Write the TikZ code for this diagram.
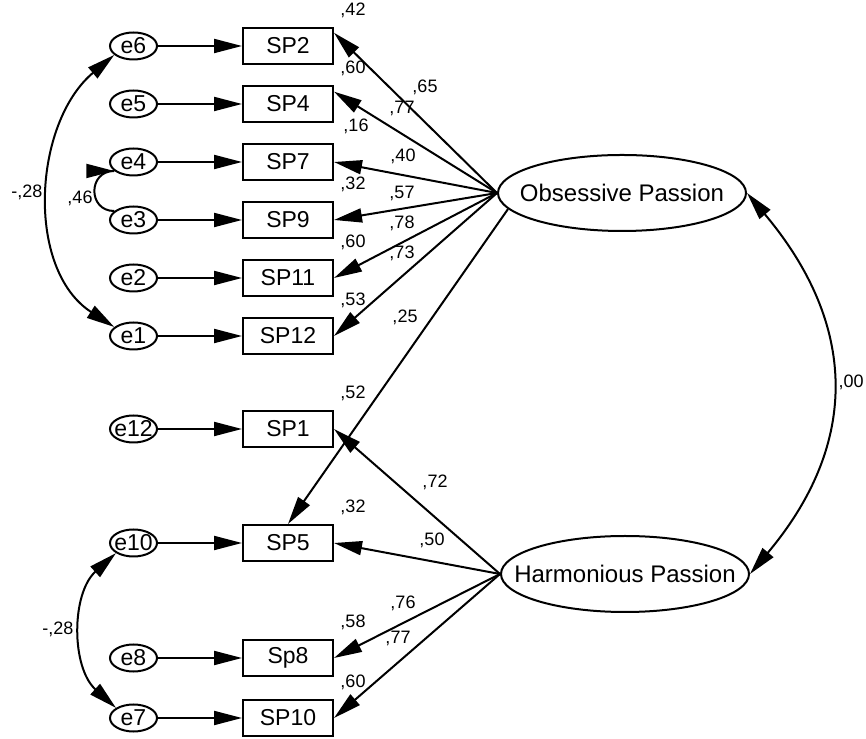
\documentclass[tikz,border=0pt]{standalone}
\usepackage{fontspec}
\setmainfont{Liberation Sans}
\usetikzlibrary{positioning,shapes.geometric,arrows.meta,decorations.markings}
\tikzset{
  obs/.style={draw, line width=1pt, minimum width=45pt, minimum height=18pt, inner sep=0pt, font=\fontsize{11.5}{13}\selectfont},
  err/.style={draw, ellipse, line width=1pt, minimum width=23.5pt, minimum height=13.5pt, inner xsep=-3pt, inner ysep=-1pt, font=\fontsize{11.5}{13}\selectfont},
  lat/.style={draw, ellipse, line width=1pt, minimum width=124pt, minimum height=38pt, inner xsep=-20pt, inner ysep=0pt, font=\fontsize{12}{14}\selectfont},
  num/.style={inner sep=0pt, font=\fontsize{9}{10}\selectfont},
  load/.style={-{Triangle[length=14pt,width=7pt]}, line width=1pt},
  cov/.style={{Triangle[length=14pt,width=7pt]}-{Triangle[length=14pt,width=7pt]}, line width=1pt},
  covarc/.style={line width=1pt, postaction={decorate}, decoration={markings,
    mark=at position 0 with {\arrowreversed{Triangle[length=14pt,width=7pt]}},
    mark=at position 1 with {\arrow{Triangle[length=14pt,width=7pt]}}}}
}
\begin{document}
\begin{tikzpicture}[x=0.5pt, y=0.5pt, node distance=10pt and 42pt]
  \useasboundingbox (0,0) rectangle (866,738);

  % indicators
  \node[obs] (sp2) at (288,692) {SP2};
  \node[obs, below=of sp2] (sp4) {SP4};
  \node[obs, below=of sp4] (sp7) {SP7};
  \node[obs, below=of sp7] (sp9) {SP9};
  \node[obs, below=of sp9] (sp11) {SP11};
  \node[obs, below=of sp11] (sp12) {SP12};
  \node[obs, below=27.5pt of sp12] (sp1) {SP1};
  \node[obs, below=38pt of sp1] (sp5) {SP5};
  \node[obs, below=38.5pt of sp5] (sp8) {Sp8};
  \node[obs, below=11pt of sp8] (sp10) {SP10};

  % errors
  \node[err, left=of sp2] (e6) {e6};
  \node[err, left=of sp4] (e5) {e5};
  \node[err, left=of sp7] (e4) {e4};
  \node[err, left=of sp9] (e3) {e3};
  \node[err, left=of sp11] (e2) {e2};
  \node[err, left=of sp12] (e1) {e1};
  \node[err, left=of sp1] (e12) {e12};
  \node[err, left=of sp5] (e10) {e10};
  \node[err, left=of sp8] (e8) {e8};
  \node[err, left=of sp10] (e7) {e7};

  % latent factors
  \node[lat] (op) at (622,545) {Obsessive Passion};
  \node[lat] (hp) at (625,164) {Harmonious Passion};

  \draw[load] (e6) -- (sp2);
  \draw[load] (e5) -- (sp4);
  \draw[load] (e4) -- (sp7);
  \draw[load] (e3) -- (sp9);
  \draw[load] (e2) -- (sp11);
  \draw[load] (e1) -- (sp12);
  \draw[load] (e12) -- (sp1);
  \draw[load] (e10) -- (sp5);
  \draw[load] (e8) -- (sp8);
  \draw[load] (e7) -- (sp10);

  \draw[load] (op.west) -- (sp2.16);
  \draw[load] (op.west) -- (sp4.15);
  \draw[load] (op.west) -- (sp7.east);
  \draw[load] (op.west) -- (sp9.east);
  \draw[load] (op.west) -- (sp11.east);
  \draw[load] (op.west) -- (sp12.east);
  \draw[load] (op.188) -- (sp5.north);
  \draw[load] (hp.west) -- (sp1.east);
  \draw[load] (hp.west) -- (sp5.east);
  \draw[load] (hp.west) -- (sp8.east);
  \draw[load] (hp.west) -- (sp10.east);

  % covariances
  \draw[cov] (e6.205) to[out=220,in=147] (e1.155);
  \draw[covarc] (e4.205) to[out=180,in=180,looseness=1.7] (e3.155);
  \draw[cov] (e10.210) to[out=222,in=138] (e7.150);
  \draw[cov] (op.east) to[out=-50,in=50,looseness=1.15] (hp.east);

  % squared multiple correlations
  \node[num] (r2sp2) at ([shift={(19,17)}]sp2.north east) {,42};
  \node[num] (r2sp4) at ([shift={(19,17)}]sp4.north east) {,60};
  \node[num] (r2sp7) at ([shift={(22,17)}]sp7.north east) {,16};
  \node[num] (r2sp9) at ([shift={(19,17)}]sp9.north east) {,32};
  \node[num] (r2sp11) at ([shift={(19,17)}]sp11.north east) {,60};
  \node[num] (r2sp12) at ([shift={(19,17)}]sp12.north east) {,53};
  \node[num] (r2sp1) at ([shift={(19,17)}]sp1.north east) {,52};
  \node[num] (r2sp5) at ([shift={(19,17)}]sp5.north east) {,32};
  \node[num] (r2sp8) at ([shift={(19,17)}]sp8.north east) {,58};
  \node[num] (r2sp10) at ([shift={(19,17)}]sp10.north east) {,60};

  % weights
  \node[num] (wsp2) at (425,651) {,65};
  \node[num] (wsp4) at (402,630) {,77};
  \node[num] (wsp7) at (403,582) {,40};
  \node[num] (wsp9) at (402,545) {,57};
  \node[num] (wsp11) at (402,515) {,78};
  \node[num] (wsp12) at (402,485) {,73};
  \node[num] (wsp5o) at (405,421) {,25};
  \node[num] (wsp1) at (435,256) {,72};
  \node[num] (wsp5h) at (432,198) {,50};
  \node[num] (wsp8) at (403,135) {,76};
  \node[num] (wsp10) at (398,100) {,77};

  \node[num] (c61) at (27,546) {-,28};
  \node[num] (c43) at (80,540) {,46};
  \node[num] (c107) at (58,109) {-,28};
  \node[num] (cfac) at (851,356) {,00};
\end{tikzpicture}
\end{document}
